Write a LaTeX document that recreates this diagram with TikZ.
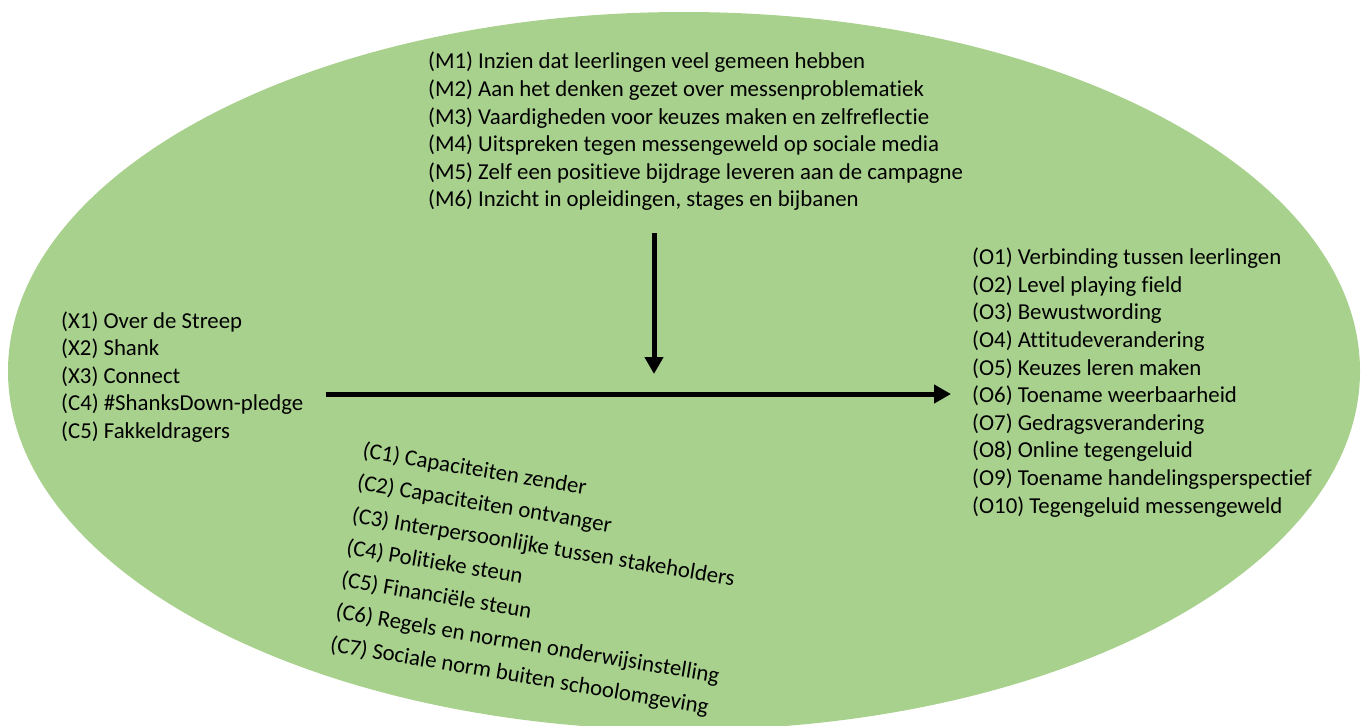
\documentclass[tikz,border=0pt]{standalone}
\usepackage{fontspec}
\setmainfont{Carlito}[Ligatures={NoCommon,NoContextual}]
\usetikzlibrary{arrows.meta}
\definecolor{ovalgreen}{HTML}{A9D18E}
\begin{document}
\begin{tikzpicture}[x=1pt,y=-1pt,
  listtext/.style={anchor=west,align=left,inner sep=0pt,font=\fontsize{22.8}{27.6}\selectfont,text=black},
  bigarrow/.style={line width=5pt,-{Triangle[length=17pt,width=18pt]}}]
\useasboundingbox (0,0) rectangle (1364,725);
\fill[ovalgreen] (684,371) ellipse [x radius=676, y radius=359];
\node[listtext] (M) at (428,131.5) {(M1) Inzien dat leerlingen veel gemeen hebben\\
(M2) Aan het denken gezet over messenproblematiek\\
(M3) Vaardigheden voor keuzes maken en zelfreflectie\\
(M4) Uitspreken tegen messengeweld op sociale media\\
(M5) Zelf een positieve bijdrage leveren aan de campagne\\
(M6) Inzicht in opleidingen, stages en bijbanen};
\node[listtext] (X) at (61,377) {(X1) Over de Streep\\
(X2) Shank\\
(X3) Connect\\
(C4) \#ShanksDown-pledge\\
(C5) Fakkeldragers};
\node[listtext] (O) at (972,382.5) {(O1) Verbinding tussen leerlingen\\
(O2) Level playing field\\
(O3) Bewustwording\\
(O4) Attitudeverandering\\
(O5) Keuzes leren maken\\
(O6) Toename weerbaarheid\\
(O7) Gedragsverandering\\
(O8) Online tegengeluid\\
(O9) Toename handelingsperspectief\\
(O10) Tegengeluid messengeweld};
\node[listtext,font=\fontsize{22.8}{32.7}\selectfont,rotate=-9.5] (C) at (346.5,548) {(C1) Capaciteiten zender\\
(C2) Capaciteiten ontvanger\\
(C3) Interpersoonlijke tussen stakeholders\\
(C4) Politieke steun\\
(C5) Financiële steun\\
(C6) Regels en normen onderwijsinstelling\\
(C7) Sociale norm buiten schoolomgeving};
\coordinate (vtop) at (654,233);
\coordinate (vend) at (654,374);
\coordinate (hstart) at (326,394);
\coordinate (hend) at (951,394);
\draw[bigarrow] (vtop) -- (vend);
\draw[bigarrow] (hstart) -- (hend);
\end{tikzpicture}
\end{document}
